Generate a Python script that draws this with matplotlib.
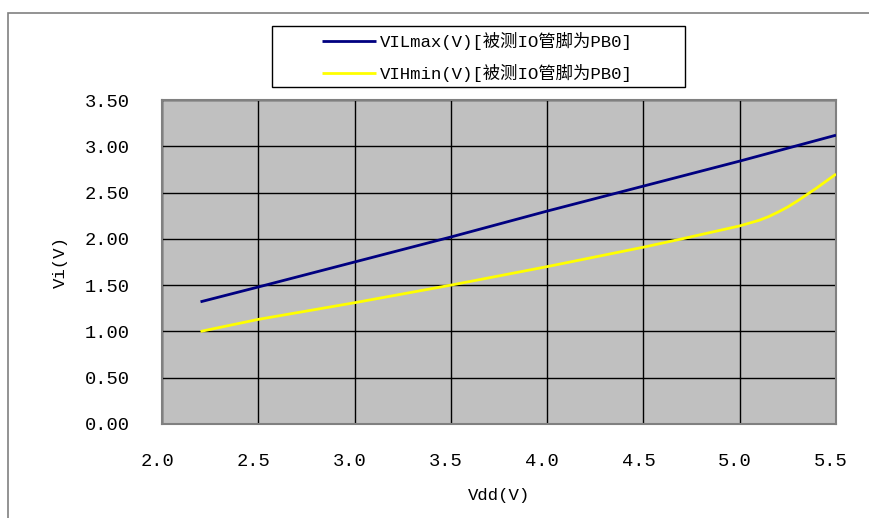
import matplotlib
matplotlib.use("Agg")
import matplotlib.pyplot as plt
import matplotlib.transforms as mtransforms
from matplotlib.patches import Rectangle

plt.rcParams['font.family'] = ['Liberation Mono', 'Noto Sans CJK SC', 'DejaVu Sans']

# Data
vdd_il = [2.2, 2.5, 3.0, 3.5, 4.0, 4.5, 5.0, 5.5]
vil_max = [1.32, 1.48, 1.75, 2.02, 2.30, 2.57, 2.84, 3.12]

vdd_ih = [2.2, 2.5, 3.0, 3.5, 4.0, 4.5, 4.7, 5.0, 5.1, 5.15, 5.2, 5.25,
          5.3, 5.35, 5.4, 5.45, 5.5]
vih_min = [1.00, 1.13, 1.31, 1.50, 1.70, 1.91, 2.00, 2.14, 2.20, 2.24, 2.29,
           2.345, 2.41, 2.48, 2.55, 2.625, 2.70]

label_il = "VILmax(V)[被测IO管脚为PB0]"
label_ih = "VIHmin(V)[被测IO管脚为PB0]"
x_ticks = [2.0, 2.5, 3.0, 3.5, 4.0, 4.5, 5.0, 5.5]
x_ticklabels = ["2.0", "2.5", "3.0", "3.5", "4.0", "4.5", "5.0", "5.5"]
y_ticks = [0.0, 0.5, 1.0, 1.5, 2.0, 2.5, 3.0, 3.5]
y_ticklabels = ["0.00", "0.50", "1.00", "1.50", "2.00", "2.50", "3.00", "3.50"]

W, H = 870, 518
fig = plt.figure(figsize=(W / 100, H / 100), dpi=100)
fig.patch.set_facecolor('white')

# outer chart-area border (partly cropped)
fig.add_artist(Rectangle((8 / W, -0.1), 1.2, (H - 13) / H + 0.1,
                         transform=fig.transFigure, fill=False,
                         edgecolor='#808080', linewidth=1.2))

ax = fig.add_axes([162 / W, 1 - 424 / H, (836 - 162) / W, (424 - 100) / H])
ax.set_facecolor('#C0C0C0')

ln1, = ax.plot(vdd_il, vil_max, color='#000080', linewidth=2.0,
               solid_capstyle='butt', zorder=3)
ln2, = ax.plot(vdd_ih, vih_min, color='#FFFF00', linewidth=2.0,
               solid_capstyle='butt', solid_joinstyle='round', zorder=3)

ax.set_xlim(2.0, 5.5)
ax.set_ylim(0.0, 3.5)
ax.set_xticks(x_ticks)
ax.set_xticklabels(x_ticklabels)
ax.set_yticks(y_ticks)
ax.set_yticklabels(y_ticklabels)
ax.grid(True, color='black', linewidth=1.0)
ax.set_axisbelow(True)
for s in ax.spines.values():
    s.set_color('#808080')
    s.set_linewidth(1.5)
ax.tick_params(axis='both', length=0, labelsize=13.5, colors='black')
ax.tick_params(axis='y', pad=23)
ax.tick_params(axis='x', pad=21)

offset = mtransforms.ScaledTranslation(-5 / 100, 0, fig.dpi_scale_trans)
for lab in ax.get_xticklabels():
    lab.set_transform(lab.get_transform() + offset)

ax.set_xlabel("Vdd(V)", fontsize=12.5, labelpad=13)
ax.set_ylabel("Vi(V)", fontsize=12.5, labelpad=12)

# legend box
fig.add_artist(Rectangle((272 / W, 1 - 87 / H), (685 - 272) / W, (87 - 26) / H,
                         transform=fig.transFigure, facecolor='white',
                         edgecolor='black', linewidth=1.0, zorder=4))
leg = fig.legend([ln1, ln2], [label_il, label_ih],
                 loc='center', bbox_to_anchor=(477.5 / W, 1 - 57 / H),
                 fontsize=12.5, frameon=False,
                 handlelength=3.1, handletextpad=0.2,
                 labelspacing=0.82, borderpad=0.0, borderaxespad=0)
leg.set_zorder(5)

fig.savefig("out.png", dpi=100, facecolor='white')
